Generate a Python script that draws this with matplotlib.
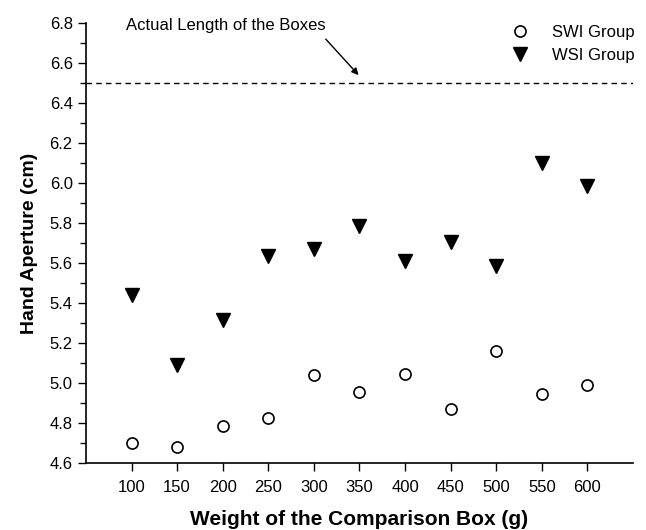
import matplotlib
matplotlib.use("Agg")
import matplotlib.pyplot as plt
from matplotlib.ticker import MultipleLocator

plt.rcParams["font.family"] = ["Liberation Sans", "DejaVu Sans"]

weights = [100, 150, 200, 250, 300, 350, 400, 450, 500, 550, 600]
swi = [4.70, 4.68, 4.785, 4.827, 5.04, 4.953, 5.043, 4.868, 5.162, 4.947, 4.992]
wsi = [5.438, 5.088, 5.317, 5.633, 5.672, 5.787, 5.612, 5.705, 5.583, 6.10, 5.987]
box_length = 6.5

fig = plt.figure(figsize=(6.46, 5.30), dpi=100)
ax = fig.add_axes([0.133, 0.1264, 0.847, 0.830])

ax.plot(weights, swi, linestyle="none", marker="o", markersize=8,
        markerfacecolor="white", markeredgecolor="black", markeredgewidth=1.2,
        label="SWI Group")
ax.plot(weights, wsi, linestyle="none", marker="v", markersize=10,
        color="black", label="WSI Group")
ax.axhline(box_length, color="black", linestyle=(0, (4, 3)), linewidth=1)

# arrow and label for the dashed line
ax.annotate("", xy=(349, 6.54), xytext=(313, 6.72),
            arrowprops=dict(arrowstyle="-|>", color="black", lw=1,
                            mutation_scale=10, shrinkA=0, shrinkB=0))
ax.text(94, 6.79, "Actual Length of the Boxes", fontsize=12,
        ha="left", va="center")

ax.set_xlim(50, 650)
ax.set_ylim(4.6, 6.8)
ax.set_xticks(weights)
ax.yaxis.set_major_locator(MultipleLocator(0.2))
ax.yaxis.set_minor_locator(MultipleLocator(0.1))
ax.yaxis.set_major_formatter(plt.FormatStrFormatter("%.1f"))
ax.tick_params(axis="both", direction="out", labelsize=12, width=1, length=6)
ax.tick_params(axis="y", which="minor", direction="out", width=1, length=4)
ax.tick_params(axis="x", pad=6)
for side in ("top", "right"):
    ax.spines[side].set_visible(False)
for side in ("left", "bottom"):
    ax.spines[side].set_linewidth(1.2)

ax.set_xlabel("Weight of the Comparison Box (g)", fontsize=15, fontweight="bold", labelpad=11)
ax.set_ylabel("Hand Aperture (cm)", fontsize=14, fontweight="bold", labelpad=8)

ax.legend(loc="upper right", bbox_to_anchor=(1.03, 1.03), frameon=False,
          fontsize=12, handletextpad=0.9, labelspacing=0.5)

fig.savefig("out.png", dpi=100)
